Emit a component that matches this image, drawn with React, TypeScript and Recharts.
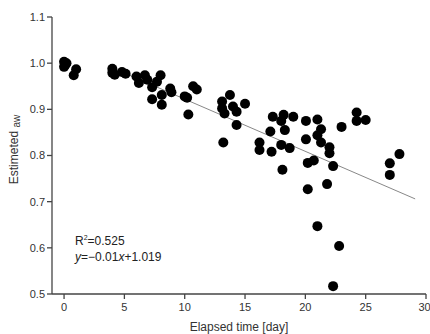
import React from "react";
import { ScatterChart, Scatter, XAxis, YAxis, Label } from "recharts";

const days = [
  0.0, 0.2, 0.0, 0.1, 1.0, 0.8,
  4.0, 4.2, 4.0, 4.8, 5.1, 6.0, 6.2, 6.7, 6.9, 7.3, 7.7, 8.0, 7.3, 8.1, 8.1, 8.8, 8.9,
  10.0, 10.2, 10.3, 10.7, 11.0,
  13.1, 13.75, 13.1, 13.3, 14.0, 14.3, 15.0, 14.3, 13.2,
  16.2, 16.2, 17.2, 18.0, 18.7, 17.1, 18.3, 17.3, 18.2, 19.0, 18.0,
  20.05, 20.05, 21.0, 21.3, 21.0, 21.3, 22.0, 22.0, 23.0, 24.25, 24.25, 25.0,
  20.2, 20.7, 22.3, 27.0, 27.8, 27.0, 18.1, 20.2, 21.8, 21.0, 22.8, 22.3,
];
const aw = [
  1.003, 1.0, 0.992, 0.996, 0.987, 0.974,
  0.988, 0.975, 0.979, 0.981, 0.977, 0.971, 0.957, 0.974, 0.964, 0.948, 0.96, 0.974, 0.922, 0.931, 0.91, 0.945, 0.937,
  0.928, 0.925, 0.889, 0.95, 0.943,
  0.917, 0.931, 0.902, 0.891, 0.906, 0.895, 0.912, 0.866, 0.828,
  0.828, 0.812, 0.808, 0.823, 0.816, 0.852, 0.855, 0.884, 0.888, 0.884, 0.875,
  0.875, 0.835, 0.878, 0.857, 0.844, 0.828, 0.818, 0.805, 0.862, 0.893, 0.875, 0.877,
  0.784, 0.789, 0.777, 0.783, 0.803, 0.758, 0.769, 0.727, 0.738, 0.647, 0.604, 0.517,
];
const fitDays = [4, 29.1];
const fitAw = [0.99, 0.706];

const xTicks = [0, 5, 10, 15, 20, 25, 30];
const yTicks = [0.5, 0.6, 0.7, 0.8, 0.9, 1.0, 1.1];

const points = days.map((d, i) => ({ x: d, y: aw[i] }));
const fitLine = fitDays.map((d, i) => ({ x: d, y: fitAw[i] }));

const FONT = "Liberation Sans, Arial, sans-serif";
const AXIS = "#444";

const YLabel = (props: any) => {
  const vb = props.viewBox || {};
  const cx = 14;
  const cy = vb.y + vb.height / 2 - 6;
  return (
    <text
      x={cx}
      y={cy}
      transform={`rotate(-90 ${cx} ${cy})`}
      textAnchor="middle"
      dominantBaseline="central"
      fontFamily={FONT}
      fontSize={12}
      fill="#333"
    >
      Estimeted <tspan fontSize={10} dy={2}>aw</tspan>
    </text>
  );
};

export default function App() {
  return (
    <div style={{ position: "absolute", left: 0, top: 0, width: 430, height: 334, background: "#fff" }}>
      <ScatterChart
        width={430}
        height={334}
        margin={{ top: 17, right: 4, bottom: 0, left: 0 }}
      >
        <XAxis
          type="number"
          dataKey="x"
          domain={[-1, 30]}
          ticks={xTicks}
          height={40}
          tickSize={5}
          tickMargin={4}
          stroke={AXIS}
          strokeWidth={1.3}
          tick={{ fill: "#333", fontSize: 11, fontFamily: FONT }}
          allowDataOverflow
        >
          <Label
            value="Elapsed time [day]"
            position="insideBottom"
            offset={3}
            style={{ fill: "#333", fontSize: 12, fontFamily: FONT }}
          />
        </XAxis>
        <YAxis
          type="number"
          dataKey="y"
          domain={[0.5, 1.1]}
          ticks={yTicks}
          width={52}
          tickSize={5}
          tickMargin={2}
          stroke={AXIS}
          strokeWidth={1.3}
          tickFormatter={(v: number) => v.toFixed(1)}
          tick={{ fill: "#333", fontSize: 11, fontFamily: FONT }}
          allowDataOverflow
        >
          <Label content={<YLabel />} />
        </YAxis>
        <Scatter
          data={fitLine}
          line={{ stroke: "#888", strokeWidth: 1 }}
          shape={() => <g />}
          isAnimationActive={false}
        />
        <Scatter
          data={points}
          fill="#000"
          shape={(p: any) => <circle cx={p.cx} cy={p.cy} r={5} fill="#000" />}
          isAnimationActive={false}
        />
      </ScatterChart>
      <div
        style={{
          position: "absolute",
          left: 75,
          top: 234,
          fontFamily: FONT,
          fontSize: 12,
          color: "#222",
          lineHeight: "15px",
        }}
      >
        <div>
          R<span style={{ fontSize: 7, position: "relative", top: -5 }}>2</span>=0.525
        </div>
        <div>
          <i>y</i>=−0.01<i>x</i>+1.019
        </div>
      </div>
    </div>
  );
}
